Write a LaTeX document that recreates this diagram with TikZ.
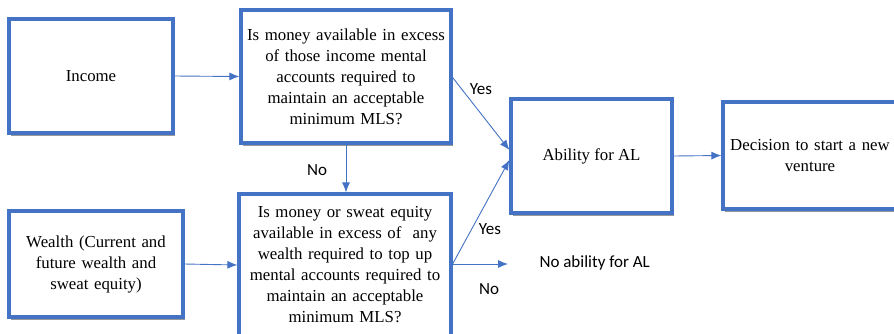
\documentclass[tikz,border=0pt]{standalone}
\usepackage{fontspec}
\setmainfont{Liberation Serif}
\newfontfamily\lblfont{Carlito}
\usetikzlibrary{arrows.meta,shadows}
\definecolor{boxblue}{RGB}{68,114,196}
\begin{document}
\begin{tikzpicture}[x=1pt,y=-1pt,
  box/.style={draw=boxblue,line width=3.2pt,fill=white,align=center,inner sep=2pt,
    font=\fontsize{16.8}{21}\selectfont,
    drop shadow={shadow xshift=1.5pt,shadow yshift=-2.5pt,fill=black!40,opacity=1}},
  arr/.style={draw=boxblue,line width=0.9pt,-{Latex[length=10pt,width=8pt]}},
  lbl/.style={font=\lblfont\fontsize{17}{19}\selectfont}]
 \useasboundingbox (0,0) rectangle (894,333);
 \node[box,minimum width=164pt,minimum height=114pt] (income) at (91,76) {Income};
 \node[box,minimum width=210pt,minimum height=133pt,text width=206pt] (q1) at (346,76.5)
   {Is money available in excess\\ of those income mental\\ accounts required to\\ maintain an acceptable\\ minimum MLS?};
 \node[box,minimum width=174pt,minimum height=106pt,text width=170pt] (wealth) at (96,264)
   {Wealth (Current and\\ future wealth and\\ sweat equity)};
 \node[box,minimum width=212pt,minimum height=142pt,text width=208pt] (q2) at (345,265)
   {Is money or sweat equity\\ available in excess of~ any\\ wealth required to top up\\ mental accounts required to\\ maintain an acceptable\\ minimum MLS?};
 \node[box,minimum width=161pt,minimum height=114pt] (ability) at (591.5,156) {Ability for AL};
 \node[box,minimum width=172pt,minimum height=107pt,text width=170pt] (decision) at (810,155.5)
   {Decision to start a new\\ venture};
 \node[lbl,anchor=west] (noab) at (536,263) {No ability for AL};
 \coordinate (noend) at (508,264);
 % connectors
 \draw[arr] (income.east) -- (q1.west);
 \draw[arr] (wealth.east) -- (q2.west);
 \draw[arr] (q1.south) -- (q1.south |- q2.north);
 \draw[arr] ([yshift=-1pt]q1.east) -- ([yshift=6pt]ability.west);
 \draw[arr] ([yshift=1pt]q2.east) -- ([yshift=-4pt]ability.west);
 \draw[arr] ([yshift=1pt]q2.east) -- (noend);
 \draw[arr] (ability.east) -- (decision.west);
 % labels
 \node[lbl] (no1) at (317,170) {No};
 \node[lbl] (yes1) at (481,89) {Yes};
 \node[lbl] (yes2) at (490,229) {Yes};
 \node[lbl] (no2) at (489,289) {No};
\end{tikzpicture}
\end{document}
